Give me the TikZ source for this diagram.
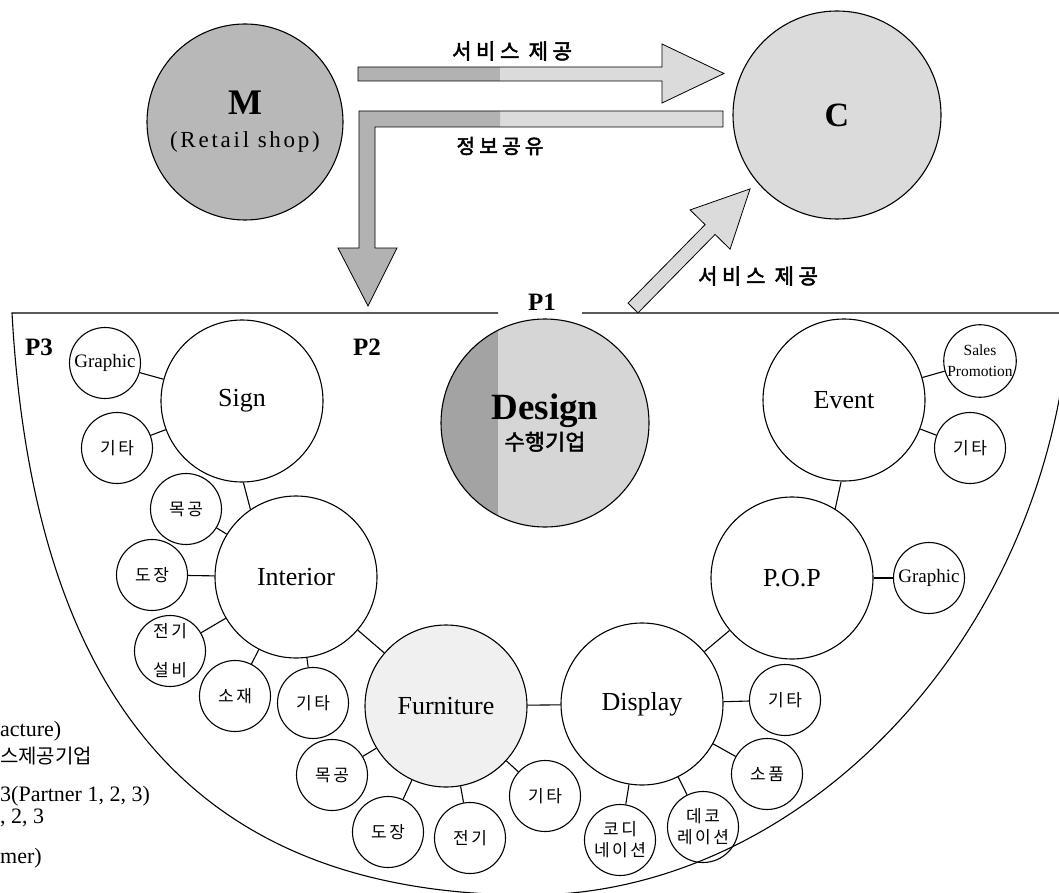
\documentclass[tikz,border=0pt]{standalone}
\usepackage{fontspec}
\setmainfont{Liberation Serif}
\newfontfamily\kr[LetterSpace=15]{Noto Sans CJK KR}
\newfontfamily\krplain{Noto Sans CJK KR}
\newfontfamily\krflow[LetterSpace=22,FakeBold=2.5]{Noto Sans CJK KR}
\newfontfamily\krbold[FakeBold=2]{Noto Sans CJK KR}
\newfontfamily\wideserif[LetterSpace=12]{Liberation Serif}

\definecolor{mfill}{gray}{0.72}
\definecolor{cfill}{gray}{0.86}
\definecolor{arrowdark}{gray}{0.70}
\definecolor{arrowlight}{gray}{0.86}
\definecolor{designdark}{gray}{0.64}
\definecolor{designlight}{gray}{0.84}
\definecolor{furnfill}{gray}{0.94}

\begin{document}
\begin{tikzpicture}[x=1pt,y=-1pt,
	main/.style={circle,draw,line width=1.1pt,minimum size=162pt,inner sep=0pt,font=\fontsize{26}{30}\selectfont},
	sub/.style={circle,draw,line width=1.1pt,minimum size=71pt,inner sep=0pt,align=center,font=\kr\fontsize{17}{21}\selectfont},
	subl/.style={sub,font=\fontsize{19}{22}\selectfont},
	link/.style={line width=1.1pt},
	flat/.style={draw,line width=0.8pt,fill=arrowlight},
	plabel/.style={font=\bfseries\fontsize{25}{28}\selectfont},
	flow/.style={font=\krflow\fontsize{21}{24}\selectfont},
	legend/.style={anchor=west,inner sep=0pt,font=\fontsize{22}{26}\selectfont}]
\useasboundingbox (0,0) rectangle (1059,893);
\clip (0,0) rectangle (1059,893);

% partner area
\draw[link] (498,313) -- (12,313) .. controls (34,710) and (205,895) .. (530,895)
	.. controls (800,895) and (1050,640) .. (1070,313) -- (582,313);

% flows M -> C, M -> P
\fill[arrowlight] (358,67) -- (662,67) -- (662,44) -- (724,73.5) -- (662,103) -- (662,81) -- (358,81) -- cycle;
\fill[arrowdark] (358,67) rectangle (500,81);
\draw[line width=0.8pt] (358,67) -- (662,67) -- (662,44) -- (724,73.5) -- (662,103) -- (662,81) -- (358,81) -- cycle;

\fill[arrowlight] (723,111) -- (359,111) -- (359,248) -- (338,248) -- (368,306) -- (397,248) -- (375,248) -- (375,127) -- (723,127) -- cycle;
\fill[arrowdark] (500,111) -- (359,111) -- (359,248) -- (338,248) -- (368,306) -- (397,248) -- (375,248) -- (375,127) -- (500,127) -- cycle;
\draw[line width=0.8pt] (723,111) -- (359,111) -- (359,248) -- (338,248) -- (368,306) -- (397,248) -- (375,248) -- (375,127) -- (723,127) -- cycle;

% flow P1 -> C
\begin{scope}[shift={(633,308)},rotate=45.5]
\filldraw[flat] (0,-7) -- (110,-7) -- (110,-28) -- (167,0) -- (110,28) -- (110,7) -- (0,7) -- cycle;
\end{scope}

\node[circle,draw,line width=1.1pt,fill=mfill,minimum size=196pt,inner sep=0pt,align=center] (m) at (245,122)
	{\textbf{\fontsize{36}{36}\selectfont M}\\[16pt]{\wideserif\fontsize{23}{24}\selectfont (Retail shop)}};
\node[circle,draw,line width=1.1pt,fill=cfill,minimum size=208pt,inner sep=0pt,font=\bfseries\fontsize{34}{36}\selectfont] (c) at (837,115) {C};

\node[flow] (svc1) at (512,51) {서비스 제공};
\node[flow,font=\krflow\fontsize{20}{24}\selectfont] (info) at (500,146) {정보공유};
\node[flow] (svc2) at (758,276) {서비스 제공};

\node[plabel] (p1) at (542,302) {P1};
\node[plabel] (p2) at (367,347) {P2};
\node[plabel] (p3) at (39,347) {P3};

% P1
\node[main,minimum size=208pt,fill=designlight,align=center,
	path picture={\fill[designdark] (path picture bounding box.north west) rectangle ([xshift=57pt]path picture bounding box.south west);}]
	(design) at (545,423) {\textbf{\fontsize{37}{40}\selectfont Design}\\{\krbold\fontsize{22}{26}\selectfont 수행기업}};

% P2
\node[main] (sign) at (242,401) {Sign};
\node[main] (interior) at (296,577) {Interior};
\node[main,fill=furnfill] (furniture) at (446,706) {Furniture};
\node[main] (display) at (642,704) {Display};
\node[main] (pop) at (792,578) {P.O.P};
\node[main] (event) at (844,400) {Event};

% P3
\node[subl] (graphicl) at (105,363) {Graphic};
\node[sub] (etcsign) at (117,448) {기타};
\node[sub] (wood) at (186,509) {목공};
\node[sub] (paint) at (152,575) {도장};
\node[sub] (elec) at (170,651) {전기\\[18pt]설비};
\node[sub] (mat) at (235,696) {소재};
\node[sub] (etcint) at (313,703) {기타};
\node[sub] (woodf) at (332,775) {목공};
\node[sub] (paintf) at (388,832) {도장};
\node[sub] (elecf) at (470,838) {전기};
\node[sub] (etcf) at (545,796) {기타};
\node[sub] (coord) at (620,840) {코디\\네이션};
\node[sub] (deco) at (703,827) {데코\\레이션};
\node[sub] (props) at (767,774) {소품};
\node[sub] (etcd) at (785,700) {기타};
\node[subl] (graphicr) at (929,578) {Graphic};
\node[sub,font=\fontsize{15.5}{21}\selectfont] (sales) at (980,361) {Sales\\Promotion};
\node[sub] (etcev) at (970,448) {기타};

\draw[link] (sign) -- (graphicl);
\draw[link] (sign) -- (etcsign);
\draw[link] (sign.271) -- (interior.124);
\draw[link] (interior) -- (wood);
\draw[link] (interior) -- (paint);
\draw[link] (interior) -- (elec);
\draw[link] (interior) -- (mat);
\draw[link] (interior) -- (etcint);
\draw[link] (interior) -- (furniture);
\draw[link] (furniture) -- (woodf);
\draw[link] (furniture) -- (paintf);
\draw[link] (furniture) -- (elecf);
\draw[link] (furniture) -- (etcf);
\draw[link] (furniture) -- (display);
\draw[link] (display) -- (coord);
\draw[link] (display) -- (deco);
\draw[link] (display) -- (props);
\draw[link] (display) -- (etcd);
\draw[link] (display) -- (pop);
\draw[link] (pop) -- (graphicr);
\draw[link] (pop.58) -- (event.268);
\draw[link] (event) -- (sales);
\draw[link] (event) -- (etcev);

% legend, cut at the left edge
\node[legend] (lg1) at (0,731) {acture)};
\node[legend,font=\krplain\fontsize{20}{24}\selectfont] (lg2) at (0,756) {스제공기업};
\node[legend] (lg3) at (0,796) {3(Partner 1, 2, 3)};
\node[legend] (lg4) at (0,818) {, 2, 3};
\node[legend] (lg5) at (0,858) {mer)};
\end{tikzpicture}
\end{document}
